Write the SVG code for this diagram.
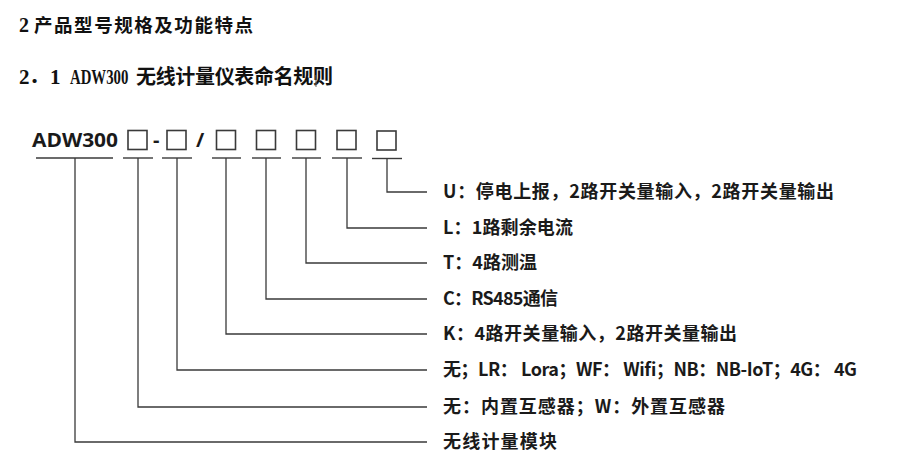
<svg xmlns="http://www.w3.org/2000/svg" width="898" height="464" viewBox="0 0 898 464">
<style>
.h{font-family:"Liberation Serif","Noto Sans CJK SC",serif;font-weight:700;fill:#111;}
.hc{font-family:"Noto Sans CJK SC",sans-serif;font-weight:700;fill:#111;}
.m{font-family:"Open Sans","Noto Sans",sans-serif;font-weight:700;font-size:20px;fill:#1a1a1a;}
.lb{font-family:"Noto Sans CJK SC",sans-serif;font-weight:700;font-size:18px;fill:#1a1a1a;}
.bx{fill:none;stroke:#3a3a3a;stroke-width:1.6;}
.ul{stroke:#3a3a3a;stroke-width:1.4;fill:none;}
.cn{stroke:#3a3a3a;stroke-width:1.3;fill:none;}
</style>
<rect width="898" height="464" fill="#fff"/>
<g id="heading1">
<text class="hc" y="32" font-size="18.5"><tspan class="h" x="19" font-size="20">2</tspan><tspan x="34" textLength="219" lengthAdjust="spacing">产品型号规格及功能特点</tspan></text>
</g>
<g id="heading2">
<text class="hc" y="84" font-size="20"><tspan class="h" x="19" font-size="21">2</tspan><tspan x="29">．</tspan><tspan class="h" x="50" font-size="21">1</tspan><tspan x="136" textLength="197" lengthAdjust="spacing">无线计量仪表命名规则</tspan></text>
<text class="h" font-size="20" transform="translate(70 84) scale(0.74 1)">ADW300</text>
<line x1="316" y1="75" x2="316" y2="87" stroke="#666" stroke-width="1"/>
</g>
<g id="model">
<text class="m" x="32" y="147" textLength="86" lengthAdjust="spacingAndGlyphs">ADW300</text>
<line class="ul" x1="36" y1="158" x2="113" y2="158"/>
</g>
<g id="box1"><rect class="bx" x="128" y="130.5" width="19" height="19"/><line class="ul" x1="123" y1="158" x2="153" y2="158"/></g>
<g id="dash"><text class="m" x="153" y="147">-</text></g>
<g id="box2"><rect class="bx" x="167" y="130.5" width="19" height="19"/><line class="ul" x1="162" y1="158" x2="192" y2="158"/></g>
<g id="slash"><text class="m" x="196" y="147">/</text></g>
<g id="box3"><rect class="bx" x="216.5" y="130.5" width="19" height="19"/><line class="ul" x1="212" y1="158" x2="241" y2="158"/></g>
<g id="box4"><rect class="bx" x="256.5" y="130.5" width="19" height="19"/><line class="ul" x1="252" y1="158" x2="281" y2="158"/></g>
<g id="box5"><rect class="bx" x="296.5" y="130.5" width="19" height="19"/><line class="ul" x1="292" y1="158" x2="321" y2="158"/></g>
<g id="box6"><rect class="bx" x="337" y="130.5" width="19" height="19"/><line class="ul" x1="332" y1="158" x2="362" y2="158"/></g>
<g id="box7"><rect class="bx" x="377" y="131" width="19" height="19"/><line class="ul" x1="372" y1="158.5" x2="402" y2="158.5"/></g>
<g id="connectors">
<path class="cn" d="M75 158V442H427"/>
<path class="cn" d="M138 158V407H427"/>
<path class="cn" d="M177 158V370H427"/>
<path class="cn" d="M226 158V334H427"/>
<path class="cn" d="M266 158V299H427"/>
<path class="cn" d="M306 158V263H427"/>
<path class="cn" d="M347 158V228H427"/>
<path class="cn" d="M387 158.5V192H427"/>
</g>
<g id="label-U"><text class="lb" x="443" y="198" textLength="391" lengthAdjust="spacing">U：停电上报，2路开关量输入，2路开关量输出</text></g>
<g id="label-L"><text class="lb" x="443" y="234" textLength="130" lengthAdjust="spacing">L：1路剩余电流</text></g>
<g id="label-T"><text class="lb" x="443" y="269" textLength="94" lengthAdjust="spacing">T：4路测温</text></g>
<g id="label-C"><text class="lb" x="443" y="305" textLength="115" lengthAdjust="spacing">C：RS485通信</text></g>
<g id="label-K"><text class="lb" x="443" y="340" textLength="294" lengthAdjust="spacing">K：4路开关量输入，2路开关量输出</text></g>
<g id="label-comm"><text class="lb" x="443" y="376" textLength="414" lengthAdjust="spacing">无；LR： Lora；WF： Wifi；NB：NB-IoT；4G： 4G</text></g>
<g id="label-ct"><text class="lb" x="443" y="413" textLength="282" lengthAdjust="spacing">无：内置互感器；W：外置互感器</text></g>
<g id="label-base"><text class="lb" x="443" y="448" textLength="114" lengthAdjust="spacing">无线计量模块</text></g>
</svg>
